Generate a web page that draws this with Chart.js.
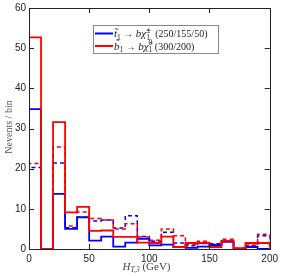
<!DOCTYPE html>
<html>
<head>
<meta charset="utf-8">
<script src="https://cdn.jsdelivr.net/npm/chart.js@4.4.0/dist/chart.umd.min.js"></script>
<style>
  html, body { margin: 0; padding: 0; background: #fff; }
  #wrap { width: 283px; height: 276px; }
</style>
</head>
<body>
<div id="wrap"><canvas id="chart"></canvas></div>
<script>
// bin edges in GeV
const binEdges = [0, 10, 20, 30, 40, 50, 60, 70, 80, 90, 100, 110, 120, 130, 140, 150, 160, 170, 180, 190, 200];

// events per bin
const redSolid   = [52.7, 0, 31.6, 9.1, 10.5, 4.5, 4.6, 3.0, 3.0, 1.6, 1.5, 3.1, 0.5, 1.5, 1.5, 0.5, 2.0, 0.2, 1.5, 1.5];
const blueSolid  = [34.8, 0, 13.7, 5.0, 7.9, 2.1, 3.1, 0.6, 1.6, 2.5, 0.9, 1.1, 0.5, 0.3, 0.6, 1.0, 1.8, 0, 0.5, 0];
const redDashed  = [21.3, 0, 25.4, 5.7, 9.2, 7.6, 7.2, 5.0, 6.3, 3.0, 2.2, 5.0, 3.3, 1.1, 1.9, 1.1, 2.4, 0.2, 1.0, 3.7];
const blueDashed = [20.3, 0, 21.4, 5.3, 7.9, 7.0, 7.2, 5.2, 8.3, 3.1, 1.9, 4.2, 1.5, 0.8, 1.4, 1.3, 2.0, 0, 0.8, 3.3];

const xTicks = [0, 50, 100, 150, 200];
const yTicks = [0, 10, 20, 30, 40, 50, 60];

const RED = 'rgb(255,0,0)';
const BLUE = 'rgb(0,0,255)';

// outline of a histogram: start on the baseline, one point per left edge, close at the last edge
function histPoints(values) {
  const pts = [{ x: binEdges[0], y: 0 }];
  values.forEach((v, i) => pts.push({ x: binEdges[i], y: v }));
  pts.push({ x: binEdges[binEdges.length - 1], y: values[values.length - 1] });
  pts.push({ x: binEdges[binEdges.length - 1], y: 0 });
  return pts;
}

function histSet(values, color, dashed) {
  return {
    data: histPoints(values),
    borderColor: color,
    borderWidth: dashed ? 1.5 : 1.8,
    borderDash: dashed ? [4, 3] : [],
    stepped: 'before',
    pointRadius: 0,
    fill: false,
    tension: 0
  };
}

// draws text pieces left to right; each piece may be raised/lowered
function richWidth(ctx, parts) {
  let w = 0;
  parts.forEach(p => {
    ctx.font = p.font;
    if (p.stack) {
      w += Math.max(ctx.measureText(p.stack[0]).width, ctx.measureText(p.stack[1]).width);
    } else {
      w += ctx.measureText(p.text).width;
    }
  });
  return w;
}

function drawRich(ctx, x, y, parts) {
  parts.forEach(p => {
    ctx.font = p.font;
    if (p.stack) {
      ctx.fillText(p.stack[0], x, y - 4.5);
      ctx.fillText(p.stack[1], x, y + 2.5);
      x += Math.max(ctx.measureText(p.stack[0]).width, ctx.measureText(p.stack[1]).width);
    } else {
      ctx.fillText(p.text, x, y + (p.dy || 0));
      x += ctx.measureText(p.text).width;
    }
  });
}

const SERIF = '"Liberation Serif", "DejaVu Serif", serif';
const SANS = '"Liberation Sans", Arial, sans-serif';

const frameAndLabels = {
  id: 'frameAndLabels',
  afterDraw(chart) {
    const ctx = chart.ctx;
    const a = chart.chartArea;
    const xs = chart.scales.x, ys = chart.scales.y;
    ctx.save();

    // frame
    ctx.strokeStyle = '#222';
    ctx.lineWidth = 1;
    ctx.strokeRect(Math.round(a.left) + 0.5, Math.round(a.top) + 0.5,
      Math.round(a.right - a.left), Math.round(a.bottom - a.top));

    // inward ticks on all four sides
    ctx.beginPath();
    yTicks.slice(1, -1).forEach(v => {
      const py = Math.round(ys.getPixelForValue(v)) + 0.5;
      ctx.moveTo(a.left, py); ctx.lineTo(a.left + 5, py);
      ctx.moveTo(a.right, py); ctx.lineTo(a.right - 5, py);
    });
    xTicks.slice(1, -1).forEach(v => {
      const px = Math.round(xs.getPixelForValue(v)) + 0.5;
      ctx.moveTo(px, a.bottom); ctx.lineTo(px, a.bottom - 5);
      ctx.moveTo(px, a.top); ctx.lineTo(px, a.top + 5);
    });
    ctx.stroke();

    // legend
    const lx = 93, ly = 25, lw = 125, lh = 28;
    ctx.fillStyle = '#fff';
    ctx.fillRect(lx, ly, lw, lh);
    ctx.strokeStyle = '#888';
    ctx.strokeRect(lx + 0.5, ly + 0.5, lw, lh);

    ctx.lineWidth = 2;
    ctx.strokeStyle = BLUE;
    ctx.beginPath(); ctx.moveTo(95, 33.5); ctx.lineTo(113, 33.5); ctx.stroke();
    ctx.strokeStyle = RED;
    ctx.beginPath(); ctx.moveTo(95, 46); ctx.lineTo(113, 46); ctx.stroke();

    ctx.fillStyle = '#222';
    ctx.textBaseline = 'alphabetic';
    ctx.textAlign = 'left';
    const it = 'italic 11px ' + SERIF;
    const rm = '10px ' + SERIF;
    const sm = '7.5px ' + SERIF;
    drawRich(ctx, 114, 37, [
      { text: 't\u0303', font: it },
      { text: '1', font: sm, dy: 2.5 },
      { text: ' \u2192 ', font: rm },
      { text: 'b\u03c7\u0303', font: it },
      { stack: ['\u00b1', '1'], font: sm },
      { text: '  (250/155/50)', font: rm }
    ]);
    drawRich(ctx, 114, 49.5, [
      { text: 'b\u0303', font: it },
      { text: '1', font: sm, dy: 2.5 },
      { text: ' \u2192 ', font: rm },
      { text: 'b\u03c7\u0303', font: it },
      { stack: ['0', '1'], font: sm },
      { text: ' (300/200)', font: rm }
    ]);

    // x title
    const xParts = [
      { text: 'H', font: 'italic 11px ' + SERIF },
      { text: 'T,3', font: 'italic 7.5px ' + SERIF, dy: 2 },
      { text: ' (GeV)', font: '11px ' + SERIF }
    ];
    ctx.fillStyle = '#444';
    const xw = richWidth(ctx, xParts);
    drawRich(ctx, 146.5 - xw / 2, 270, xParts);

    // y title
    ctx.save();
    ctx.translate(12, 127);
    ctx.rotate(-Math.PI / 2);
    ctx.font = '10px ' + SERIF;
    ctx.textAlign = 'center';
    ctx.fillStyle = '#555';
    ctx.fillText('Nevents / bin', 0, 0);
    ctx.restore();

    ctx.restore();
  }
};

new Chart(document.getElementById('chart'), {
  type: 'line',
  data: {
    datasets: [
      histSet(redSolid, RED, false),
      histSet(blueSolid, BLUE, false),
      histSet(redDashed, RED, true),
      histSet(blueDashed, BLUE, true)
    ]
  },
  options: {
    responsive: true,
    maintainAspectRatio: false,
    animation: false,
    layout: { autoPadding: false, padding: { top: 5, right: 10, left: 0, bottom: 0 } },
    plugins: { legend: { display: false }, tooltip: { enabled: false } },
    scales: {
      x: {
        type: 'linear',
        min: 0,
        max: 200,
        afterBuildTicks: (scale) => { scale.ticks = xTicks.map(v => ({ value: v })); },
        afterFit: (scale) => { scale.height = 27; },
        grid: { display: false, drawTicks: false, tickLength: 0 },
        border: { display: false },
        ticks: {
          padding: 5,
          maxRotation: 0,
          color: '#222',
          font: { family: SANS, size: 10, lineHeight: 1 }
        }
      },
      y: {
        min: 0,
        max: 60,
        afterBuildTicks: (scale) => { scale.ticks = yTicks.map(v => ({ value: v })); },
        afterFit: (scale) => { scale.width = 29; },
        grid: { display: false, drawTicks: false, tickLength: 0 },
        border: { display: false },
        ticks: {
          padding: 3,
          color: '#222',
          font: { family: SANS, size: 10, lineHeight: 1 }
        }
      }
    }
  },
  plugins: [frameAndLabels]
});
</script>
</body>
</html>
